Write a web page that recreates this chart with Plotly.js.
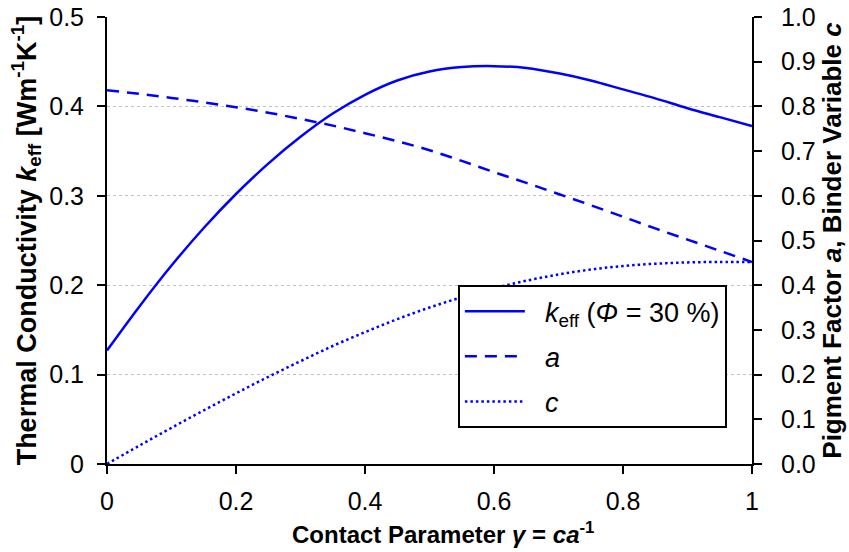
<!DOCTYPE html>
<html>
<head>
<meta charset="utf-8">
<script src="https://cdn.plot.ly/plotly-3.0.1.min.js"></script>
<style>
  html, body { margin: 0; padding: 0; background: #ffffff; }
  #chart { width: 849px; height: 552px; }
</style>
</head>
<body>
<div id="chart"></div>
<script>
// Contact parameter gamma (x)
const gammaValues = [0, 0.05, 0.1, 0.15, 0.2, 0.25, 0.3, 0.35, 0.4, 0.45, 0.5, 0.55, 0.6, 0.65, 0.7, 0.75, 0.8, 0.85, 0.9, 0.95, 1.0];
// Thermal conductivity k_eff (left axis)
const keffValues = [0.127, 0.176, 0.222, 0.264, 0.302, 0.336, 0.366, 0.392, 0.413, 0.429, 0.439, 0.444, 0.445, 0.443, 0.437, 0.429, 0.419, 0.409, 0.398, 0.388, 0.378];
// Pigment factor a (right axis)
const aValues = [0.836, 0.828, 0.819, 0.809, 0.798, 0.786, 0.772, 0.757, 0.740, 0.722, 0.702, 0.678, 0.653, 0.629, 0.604, 0.579, 0.553, 0.527, 0.502, 0.477, 0.452];
// Binder variable c (right axis)
const cValues = [0, 0.041, 0.081, 0.120, 0.158, 0.195, 0.230, 0.264, 0.295, 0.324, 0.350, 0.373, 0.393, 0.410, 0.424, 0.435, 0.443, 0.448, 0.451, 0.452, 0.452];

const seriesNames = ['<i>k</i><sub>eff</sub> (<i>Φ</i> = 30 %)', '<i>a</i>', '<i>c</i>'];
const xTicks = [0, 0.2, 0.4, 0.6, 0.8, 1];
const yLeftTicks = [0, 0.1, 0.2, 0.3, 0.4, 0.5];
const yRightTicks = [0, 0.1, 0.2, 0.3, 0.4, 0.5, 0.6, 0.7, 0.8, 0.9, 1.0];
const xTitle = '<b>Contact Parameter <i>γ</i> = <i>ca</i><sup>-1</sup></b>';
const yLeftTitle = '<b>Thermal Conductivity <i>k</i><sub>eff</sub> [Wm<sup>-1</sup>K<sup>-1</sup>]</b>';
const yRightTitle = '<b>Pigment Factor <i>a</i>, Binder Variable <i>c</i></b>';

const FONT = 'Liberation Sans, Arial, Helvetica, sans-serif';
const BLUE = '#0000ff';
const PAD = '\u00a0\u00a0';

const traces = [
  { x: gammaValues, y: keffValues, name: PAD + seriesNames[0], yaxis: 'y', type: 'scatter', mode: 'lines',
    line: { color: BLUE, width: 2.5, shape: 'spline' }, legendgroup: 'g1' },
  { x: gammaValues, y: aValues, name: PAD + seriesNames[1], yaxis: 'y2', type: 'scatter', mode: 'lines',
    line: { color: BLUE, width: 2.5, dash: '12px,8px', shape: 'spline' }, legendgroup: 'g2' },
  { x: gammaValues, y: cValues, name: PAD + seriesNames[2], yaxis: 'y2', type: 'scatter', mode: 'lines',
    line: { color: BLUE, width: 2.5, dash: '2.5px,3px', shape: 'spline' }, legendgroup: 'g3' }
];

const layout = {
  width: 849, height: 552,
  margin: { l: 107, r: 97, t: 17, b: 88 },
  paper_bgcolor: '#ffffff', plot_bgcolor: '#ffffff',
  font: { family: FONT, color: '#000000', size: 25 },
  showlegend: true,
  legend: {
    x: 0.544, y: 0.400, xanchor: 'left', yanchor: 'top',
    bordercolor: '#000000', borderwidth: 2, bgcolor: '#ffffff',
    font: { family: FONT, size: 27, color: '#000000' },
    itemwidth: 60, tracegroupgap: 7, traceorder: 'grouped'
  },
  xaxis: {
    range: [0, 1], tickvals: xTicks, ticktext: xTicks.map(String),
    showline: true, linecolor: '#000000', linewidth: 2,
    ticks: 'outside', ticklen: 8, tickwidth: 2, tickcolor: '#000000',
    showgrid: false, zeroline: false, ticklabelstandoff: 6,
    tickfont: { family: FONT, size: 25 }
  },
  yaxis: {
    range: [0, 0.5], tickvals: yLeftTicks, ticktext: yLeftTicks.map(String),
    showline: true, linecolor: '#000000', linewidth: 2,
    ticks: 'outside', ticklen: 8, tickwidth: 2, tickcolor: '#000000',
    showgrid: true, gridcolor: '#c0c0c0', gridwidth: 1, griddash: 'dot',
    zeroline: false, ticklabelstandoff: 8,
    tickfont: { family: FONT, size: 25 },
    title: { text: yLeftTitle, font: { family: FONT, size: 27 }, standoff: 5 }
  },
  yaxis2: {
    range: [0, 1], overlaying: 'y', side: 'right',
    tickvals: yRightTicks, ticktext: yRightTicks.map(v => v.toFixed(1)),
    showline: true, linecolor: '#000000', linewidth: 2,
    ticks: 'outside', ticklen: 8, tickwidth: 2, tickcolor: '#000000',
    showgrid: false, zeroline: false, ticklabelstandoff: 14,
    tickfont: { family: FONT, size: 25 },
    title: { text: yRightTitle, font: { family: FONT, size: 26 }, standoff: 8 }
  },
  annotations: [
    { text: xTitle, xref: 'paper', yref: 'paper', x: 0.5, y: 0, xshift: 13, yshift: -69,
      xanchor: 'center', yanchor: 'middle', showarrow: false, font: { family: FONT, size: 24, color: '#000000' } }
  ]
};

Plotly.newPlot('chart', traces, layout, { displayModeBar: false, staticPlot: true });
</script>
</body>
</html>
